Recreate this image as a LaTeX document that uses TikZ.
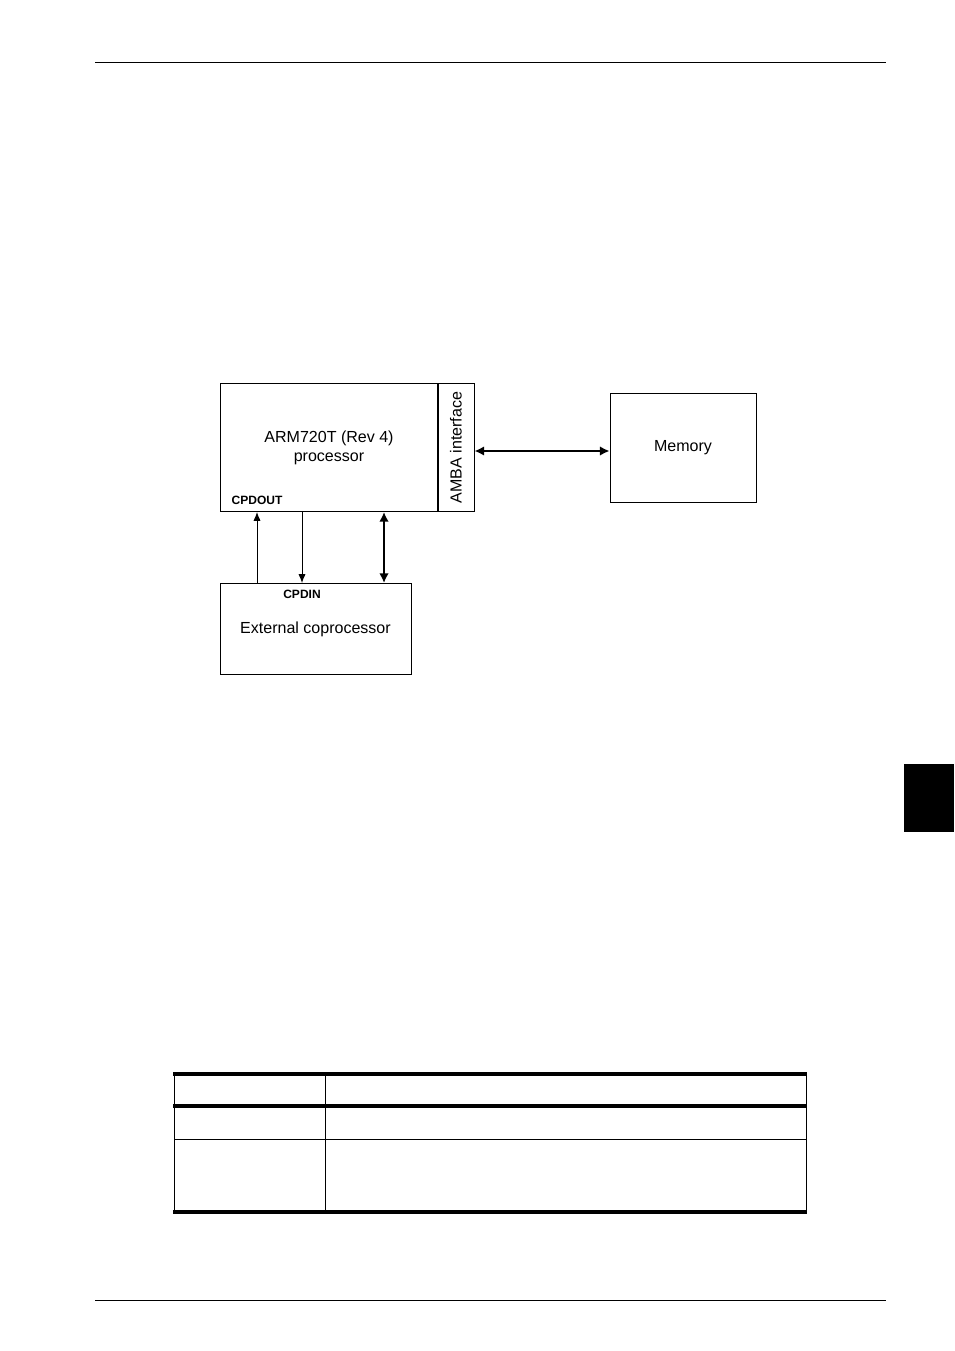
\documentclass[tikz,border=0pt]{standalone}
\usepackage{fontspec}
\setmainfont{Liberation Sans}
\usepackage{tikz}
\usetikzlibrary{arrows.meta}

\begin{document}
\begin{tikzpicture}[x=0.624pt,y=-0.624pt,>={Latex[length=5.5pt,width=4.5pt]},
  khoi/.style={draw,line width=0.6pt,inner sep=0pt,align=center,font=\fontsize{10}{12}\selectfont},
  nhan/.style={inner sep=0pt,font=\fontsize{7.5}{9}\selectfont\bfseries},
  bus/.style={{Latex[length=6pt,width=6pt]}-{Latex[length=6pt,width=6pt]},line width=1.3pt}]
			\useasboundingbox (0,0) rectangle (954,1351);
			% Vẽ khung trang
			\draw [line width=0.6pt] (95,62) -- (886,62);
			\draw [line width=0.6pt] (95,1300) -- (886,1300);
			\fill (904,764) rectangle (954,832);
			% Vẽ các khối
			\node [khoi,minimum width=136pt,minimum height=79.9pt] (arm) at (329,447.5) {ARM720T (Rev 4)\\processor};
			\node [khoi,minimum width=22.5pt,minimum height=79.9pt] (amba) at (456,447.5) {\rotatebox{90}{AMBA interface}};
			\node [khoi,minimum width=91.1pt,minimum height=68pt] (mem) at (683,448) {Memory};
			\node [khoi,minimum width=119.2pt,minimum height=56.8pt] (cop) at (315.5,629) {External coprocessor};
			\node [nhan] (cpdout) at (257,500.5) {CPDOUT};
			\node [nhan] (cpdin) at (302,594.5) {CPDIN};
			% Vẽ mũi tên
			\coordinate (busy) at (0,451);
			\coordinate (cpx) at (384,0);
			\draw [->,line width=0.6pt] (cop.north -| cpdout) -- (arm.south -| cpdout);
			\draw [->,line width=0.6pt] (arm.south -| cpdin) -- (cop.north -| cpdin);
			\draw [bus] (arm.south -| cpx) -- (cop.north -| cpx);
			\draw [bus] (amba.east |- busy) -- (mem.west |- busy);
			% Vẽ bảng
			\draw [line width=0.6pt] (174,1074) -- (174,1212) (325,1074) -- (325,1212) (806,1074) -- (806,1212);
			\draw [line width=0.6pt] (174,1139) -- (806,1139);
			\foreach \y in {1074,1106,1212}
			\draw [line width=2.1pt] (173,\y) -- (807,\y);
\end{tikzpicture}
\end{document}
